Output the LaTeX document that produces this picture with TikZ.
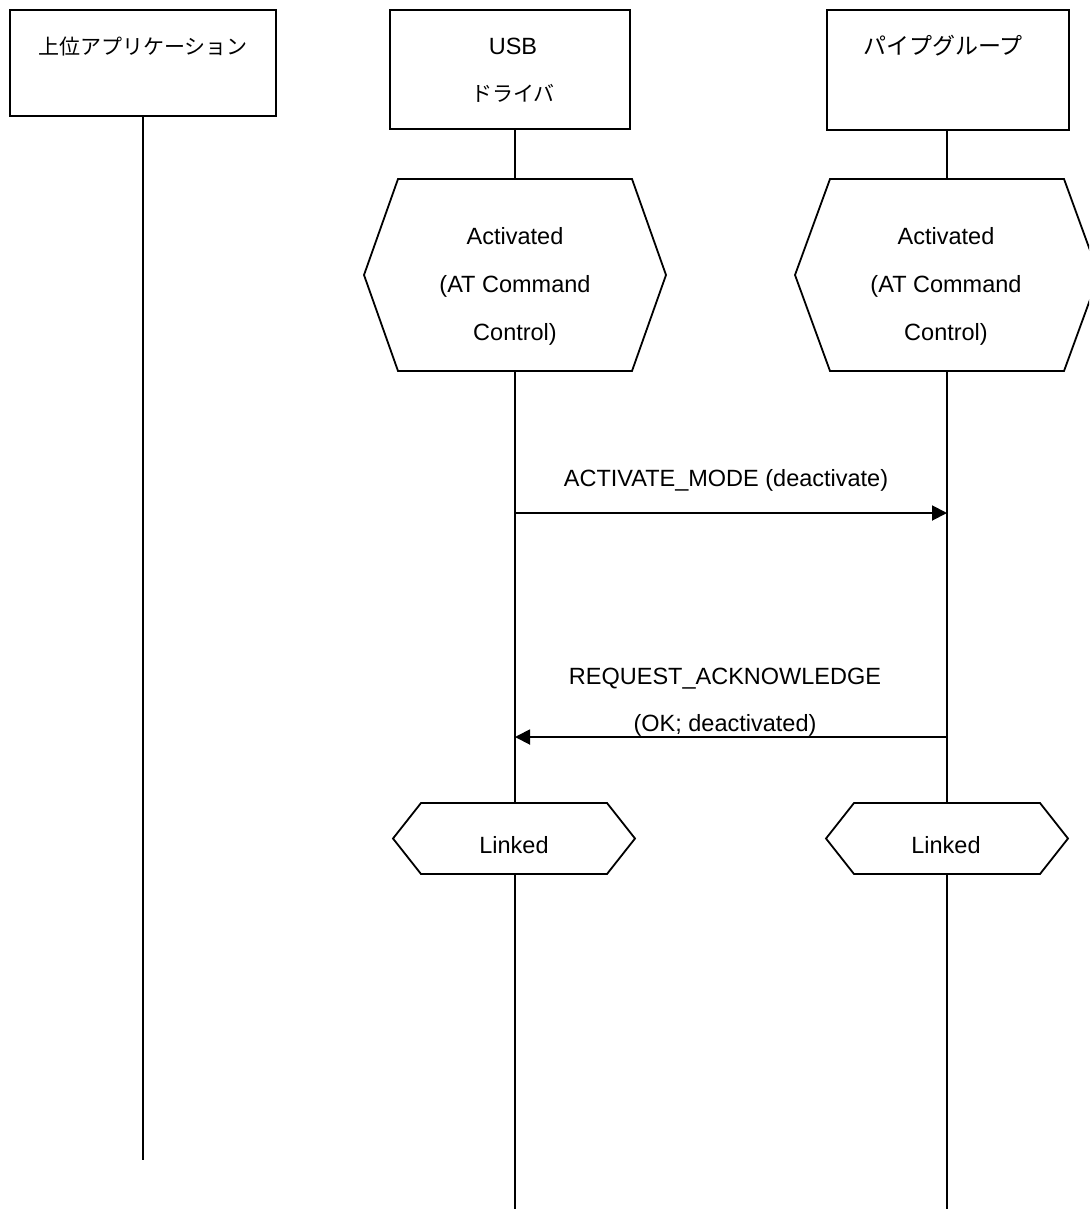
\documentclass[tikz,border=0pt]{standalone}
\usepackage{fontspec}
\setmainfont{Liberation Sans}
\newfontfamily\jpfont{Noto Sans CJK JP}
\usetikzlibrary{arrows.meta}
\begin{document}
\begin{tikzpicture}[x=1pt,y=-1pt,
  every node/.style={inner sep=0pt, outer sep=0pt},
  line/.style={draw=black, line width=1.8pt},
  headbox/.style={line, rectangle},
  statebox/.style={rectangle},
  lat/.style={font=\fontsize{23.5}{48}\selectfont, align=center},
  jp/.style={font=\jpfont\fontsize{21}{48}\selectfont},
  msg/.style={draw=black, line width=1.9pt, -{Triangle[length=15pt,width=15pt]}},
]
\useasboundingbox (0,0) rectangle (1089,1209);
\clip (0,0) rectangle (1089,1209);
\fill[white] (0,0) rectangle (1089,1209);

% ---- instance heads ----
\node[headbox, minimum width=266pt, minimum height=106pt] (app) at (143,63) {};
\node[jp, anchor=base] (appT) at (143,55) {上位アプリケーション};

\node[headbox, minimum width=240pt, minimum height=119pt] (usb) at (510,69.5) {};
\node[lat, anchor=base] (usbT1) at (513,55) {USB};
\node[jp, anchor=base] (usbT2) at (513,102) {ドライバ};

\node[headbox, minimum width=242pt, minimum height=120pt] (pipe) at (948,70) {};
\node[jp, anchor=base, font=\jpfont\fontsize{23}{48}\selectfont] (pipeT) at (943,55) {パイプグループ};

% ---- state: Activated ----
\node[statebox, minimum width=234pt, minimum height=192pt] (hexA) at (515,275) {};
\draw[line] (hexA.north west) -- (hexA.north east) -- ([xshift=34pt]hexA.east)
  -- (hexA.south east) -- (hexA.south west) -- ([xshift=-34pt]hexA.west) -- cycle;
\node[lat] (hexAT) at (515,286) {Activated\\(AT Command\\Control)};

\node[statebox, minimum width=234pt, minimum height=192pt] (hexB) at (947,275) {};
\draw[line] (hexB.north west) -- (hexB.north east) -- ([xshift=35pt]hexB.east)
  -- (hexB.south east) -- (hexB.south west) -- ([xshift=-35pt]hexB.west) -- cycle;
\node[lat] (hexBT) at (946,286) {Activated\\(AT Command\\Control)};

% ---- state: Linked ----
\node[statebox, minimum width=186pt, minimum height=71pt] (linkA) at (514,838.5) {};
\draw[line] (linkA.north west) -- (linkA.north east) -- ([xshift=28pt]linkA.east)
  -- (linkA.south east) -- (linkA.south west) -- ([xshift=-28pt]linkA.west) -- cycle;
\node[lat, anchor=base] (linkAT) at (514,853) {Linked};

\node[statebox, minimum width=186pt, minimum height=71pt] (linkB) at (947,838.5) {};
\draw[line] (linkB.north west) -- (linkB.north east) -- ([xshift=28pt]linkB.east)
  -- (linkB.south east) -- (linkB.south west) -- ([xshift=-28pt]linkB.west) -- cycle;
\node[lat, anchor=base] (linkBT) at (946,853) {Linked};

% ---- lifelines ----
\coordinate (appEnd) at (143,1160);
\coordinate (usbEnd) at (515,1209);
\coordinate (pipeEnd) at (947,1209);
\draw[line] (app.south) -- (appEnd);
\draw[line] (hexA.north |- usb.south) -- (hexA.north);
\draw[line] (hexA.south) -- (hexA.south |- linkA.north);
\draw[line] (hexA.south |- linkA.south) -- (usbEnd);
\draw[line] (pipe.south -| hexB.north) -- (hexB.north);
\draw[line] (hexB.south) -- (linkB.north);
\draw[line] (linkB.south) -- (pipeEnd);

% ---- messages ----
\coordinate (m1a) at (515,513);
\coordinate (m1b) at (947,513);
\draw[msg] (m1a) -- (m1b);
\node[lat, anchor=base] (m1T) at (726,486) {ACTIVATE\_MODE (deactivate)};

\coordinate (m2a) at (947,737);
\coordinate (m2b) at (515,737);
\draw[msg] (m2a) -- (m2b);
\node[lat, anchor=base] (m2T1) at (725,684) {REQUEST\_ACKNOWLEDGE};
\node[lat, anchor=base] (m2T2) at (725,731) {(OK; deactivated)};
\end{tikzpicture}
\end{document}
